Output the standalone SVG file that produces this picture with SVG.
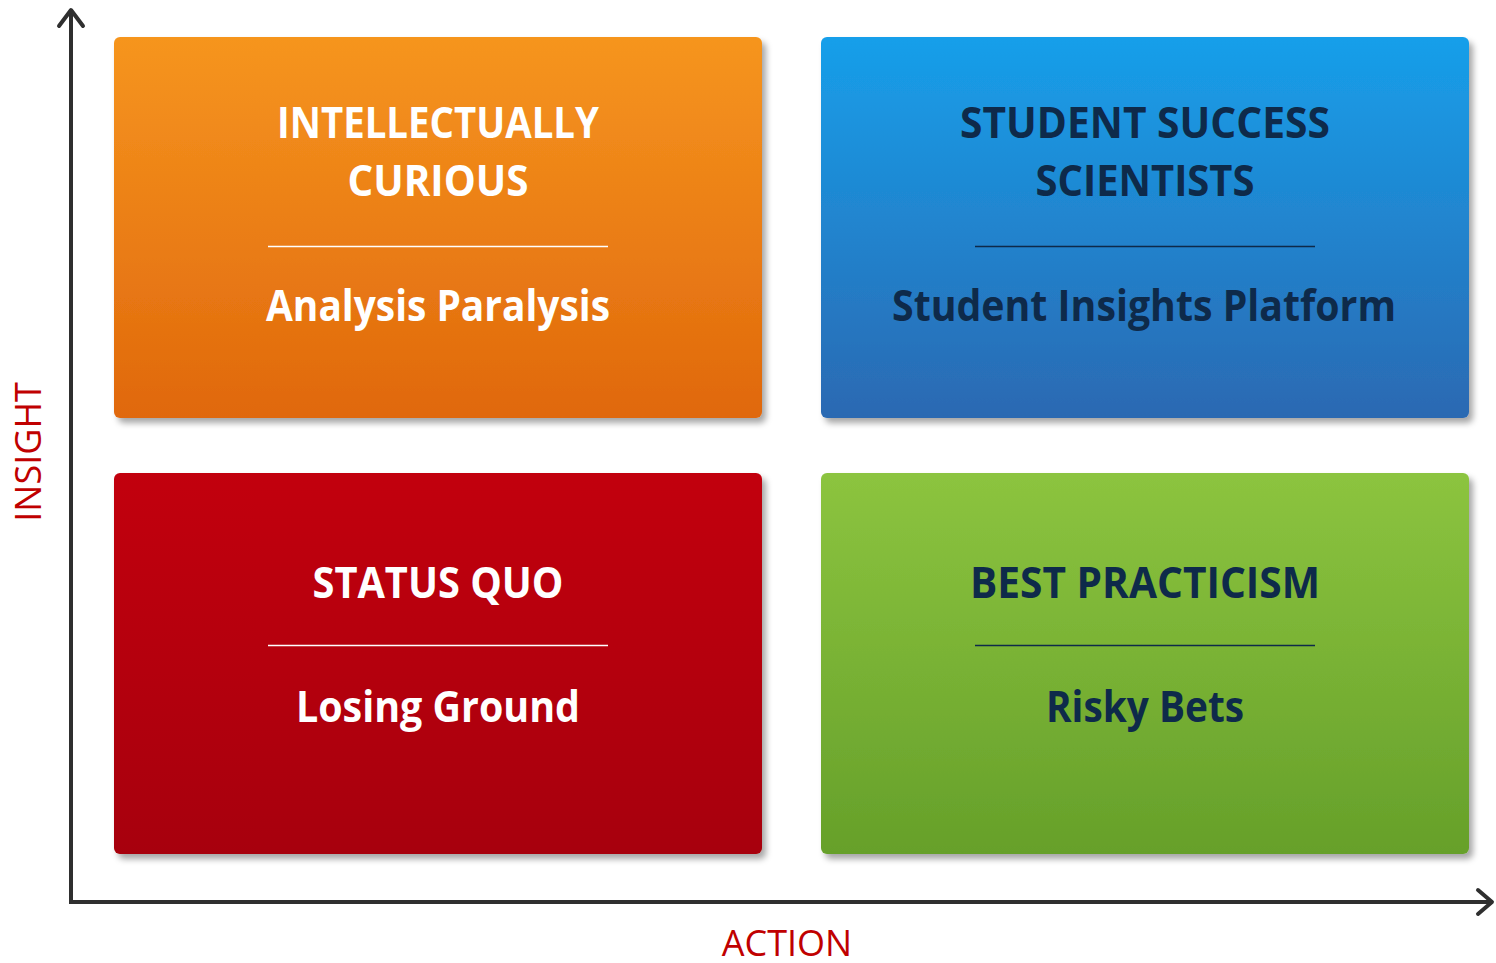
<svg xmlns="http://www.w3.org/2000/svg" width="1496" height="963" viewBox="0 0 1496 963">
<style>
.t{font-family:"Open Sans","Noto Sans","Liberation Sans",sans-serif;font-weight:bold;font-size:43px;text-anchor:middle}
.w{fill:#ffffff}
.d{fill:#0e2a4a}
.ax{font-family:"Open Sans","Liberation Sans",sans-serif;font-size:36px;fill:#c00000;text-anchor:middle}
.axis{stroke:#2f2f2f;stroke-width:4;fill:none}
</style>
<defs>
<linearGradient id="gO" x1="0" y1="0" x2="0" y2="1"><stop offset="0" stop-color="#f6951f"/><stop offset="1" stop-color="#e0680c"/></linearGradient>
<linearGradient id="gB" x1="0" y1="0" x2="0" y2="1"><stop offset="0" stop-color="#179fea"/><stop offset="1" stop-color="#2b69b2"/></linearGradient>
<linearGradient id="gR" x1="0" y1="0" x2="0" y2="1"><stop offset="0" stop-color="#c2000a"/><stop offset="1" stop-color="#a70007"/></linearGradient>
<linearGradient id="gG" x1="0" y1="0" x2="0" y2="1"><stop offset="0" stop-color="#8cc43f"/><stop offset="1" stop-color="#66a02a"/></linearGradient>
<filter id="sh" x="-5%" y="-5%" width="115%" height="115%"><feDropShadow dx="4" dy="5" stdDeviation="3" flood-color="#000" flood-opacity="0.35"/></filter>
</defs>
<g id="connectors">
<path class="axis" d="M71,10 V902 H1492"/>
<path class="axis" d="M59,26 L71,10 L83,26" stroke-linecap="round" stroke-linejoin="round" stroke-width="5"/>
<path class="axis" d="M1478,890 L1492,902 L1478,914" stroke-linecap="round" stroke-linejoin="round" stroke-width="5"/>
</g>
<g id="axis-labels">
<text class="ax" transform="translate(41,452) rotate(-90)">INSIGHT</text>
<text class="ax" x="787" y="956">ACTION</text>
</g>
<g id="q-intellectually-curious">
<rect x="114" y="37" width="648" height="381" rx="6" fill="url(#gO)" filter="url(#sh)"/>
<text class="t w" x="438" y="138" textLength="322" lengthAdjust="spacingAndGlyphs">INTELLECTUALLY</text>
<text class="t w" x="438" y="196" textLength="181" lengthAdjust="spacingAndGlyphs">CURIOUS</text>
<line x1="268" y1="246.5" x2="608" y2="246.5" stroke="#ffffff" stroke-width="1.3"/>
<text class="t w" x="438" y="321" textLength="344" lengthAdjust="spacingAndGlyphs">Analysis Paralysis</text>
</g>
<g id="q-student-success-scientists">
<rect x="821" y="37" width="648" height="381" rx="6" fill="url(#gB)" filter="url(#sh)"/>
<text class="t d" x="1145" y="138" textLength="370" lengthAdjust="spacingAndGlyphs">STUDENT SUCCESS</text>
<text class="t d" x="1145" y="196" textLength="219" lengthAdjust="spacingAndGlyphs">SCIENTISTS</text>
<line x1="975" y1="246.5" x2="1315" y2="246.5" stroke="#0e2a4a" stroke-width="1.3"/>
<text class="t d" x="1144" y="321" textLength="504" lengthAdjust="spacingAndGlyphs">Student Insights Platform</text>
</g>
<g id="q-status-quo">
<rect x="114" y="473" width="648" height="381" rx="6" fill="url(#gR)" filter="url(#sh)"/>
<text class="t w" x="438" y="598" textLength="251" lengthAdjust="spacingAndGlyphs">STATUS QUO</text>
<line x1="268" y1="645.5" x2="608" y2="645.5" stroke="#ffffff" stroke-width="1.3"/>
<text class="t w" x="438" y="722" textLength="284" lengthAdjust="spacingAndGlyphs">Losing Ground</text>
</g>
<g id="q-best-practicism">
<rect x="821" y="473" width="648" height="381" rx="6" fill="url(#gG)" filter="url(#sh)"/>
<text class="t d" x="1145" y="598" textLength="350" lengthAdjust="spacingAndGlyphs">BEST PRACTICISM</text>
<line x1="975" y1="645.5" x2="1315" y2="645.5" stroke="#0e2a4a" stroke-width="1.3"/>
<text class="t d" x="1145" y="722" textLength="198" lengthAdjust="spacingAndGlyphs">Risky Bets</text>
</g>
</svg>
